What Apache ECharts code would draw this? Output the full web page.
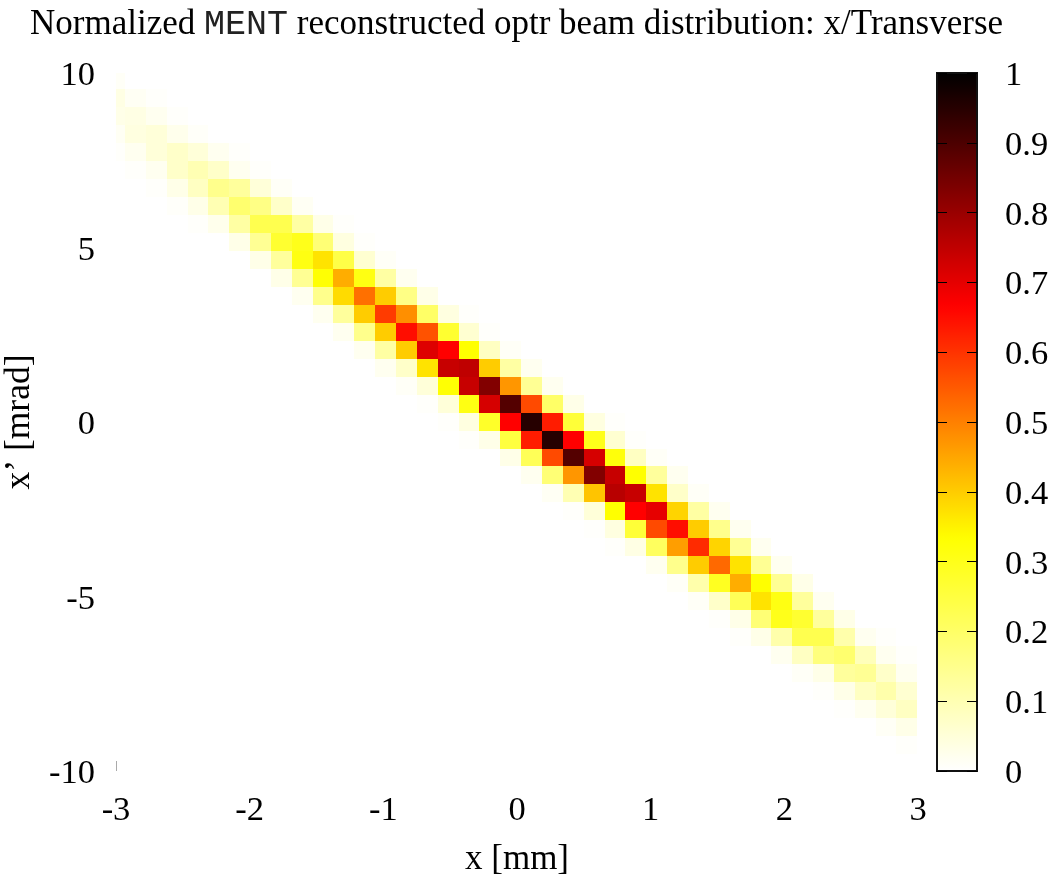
<!DOCTYPE html>
<html><head><meta charset="utf-8">
<style>html,body{margin:0;padding:0;background:#fff}#c{width:1054px;height:878px}</style>
<script src="https://cdn.jsdelivr.net/npm/echarts@6/dist/echarts.min.js"></script>
</head><body><div id="c"></div>
<script>
// Cell edges in data units (first column and first row are clipped by the axis range)
const xEdges=[-3,-2.933,-2.777,-2.621,-2.465,-2.309,-2.153,-1.997,-1.841,-1.685,-1.529,-1.373,-1.217,-1.061,-0.905,-0.749,-0.593,-0.437,-0.281,-0.125,0.031,0.187,0.343,0.499,0.655,0.811,0.967,1.123,1.279,1.435,1.591,1.747,1.903,2.059,2.215,2.371,2.527,2.683,2.839,2.992];
const yEdges=[10,9.54,9.025,8.51,7.995,7.48,6.965,6.45,5.935,5.42,4.905,4.39,3.875,3.36,2.845,2.33,1.815,1.3,0.785,0.27,-0.245,-0.76,-1.275,-1.79,-2.305,-2.82,-3.335,-3.85,-4.365,-4.88,-5.395,-5.91,-6.425,-6.94,-7.455,-7.97,-8.485,-9,-9.515];
const xTicks=[-3,-2,-1,0,1,2,3];
const yTicks=[-10,-5,0,5,10];
const paletteColors=['#ffffff','#ffff00','#ff0000','#000000'];
// First occupied column of each row, then the values read from that column on
const rowStart=[0,0,0,0,0,1,2,3,4,6,7,8,9,10,11,12,13,14,15,16,17,19,20,21,22,23,24,26,27,28,29,30,32,33,34,35,37,38];
const rowValues=[
[.01],
[.035,.015,.005],
[.03,.035,.02,.005],
[.015,.04,.05,.025,.008],
[.005,.02,.05,.07,.05,.02,.005],
[.005,.02,.07,.10,.07,.02,.005],
[.005,.03,.08,.15,.13,.05,.01],
[.007,.03,.1,.19,.16,.07,.015],
[.005,.025,.12,.23,.23,.12,.03,.005],
[.03,.14,.27,.30,.18,.04,.005],
[.03,.13,.31,.37,.24,.06,.01],
[.03,.14,.33,.44,.31,.12,.02],
[.02,.15,.38,.52,.40,.16,.03],
[.02,.13,.40,.59,.48,.2,.04,.005],
[.02,.15,.40,.65,.56,.27,.06,.005],
[.02,.12,.40,.71,.667,.333,.08,.01],
[.02,.07,.37,.74,.75,.40,.12,.02],
[.01,.05,.33,.74,.83,.47,.14,.02],
[.005,.05,.31,.72,.89,.57,.2,.03],
[.005,.04,.28,.667,.95,.63,.26,.04,.005],
[.005,.03,.25,.63,.95,.667,.30,.06,.005],
[.03,.22,.57,.89,.72,.32,.08,.01],
[.02,.18,.47,.83,.74,.333,.13,.02],
[.015,.1,.41,.76,.74,.37,.07,.01],
[.005,.05,.333,.667,.70,.39,.12,.02],
[.004,.04,.26,.57,.65,.40,.15,.02],
[.005,.035,.21,.46,.61,.39,.14,.02],
[.02,.15,.40,.53,.37,.14,.02],
[.01,.11,.29,.44,.333,.14,.03],
[.01,.07,.22,.37,.31,.13,.02],
[.005,.03,.18,.30,.27,.13,.03],
[.005,.03,.11,.23,.23,.11,.02,.005],
[.02,.08,.17,.19,.09,.02,.005],
[.01,.03,.13,.14,.07,.02],
[.005,.03,.08,.11,.06],
[.004,.02,.05,.08],
[.012,.03],
[.005]
];
const cells=[];
rowValues.forEach((vals,r)=>vals.forEach((v,i)=>{
  const k=rowStart[r]+i;
  cells.push([xEdges[k],xEdges[k+1],yEdges[r],yEdges[r+1],v]);
}));
const serif='"Liberation Serif","Times New Roman",serif';
const labelStyle={fontFamily:serif,fontSize:34.5,color:'#000',fontWeight:'normal'};
const chart=echarts.init(document.getElementById('c'),null,{renderer:'canvas'});
chart.setOption({
  animation:false,
  backgroundColor:'#fff',
  title:{
    left:30,top:7,padding:0,
    text:'{a|Normalized }{m|MENT}{a| reconstructed optr beam distribution: x/Transverse}',
    textStyle:{fontWeight:'normal',rich:{
      a:{fontFamily:serif,fontSize:35,color:'#000',fontWeight:'normal'},
      m:{fontFamily:'"Liberation Mono",monospace',fontSize:35,color:'#222',fontWeight:'normal'}
    }}
  },
  grid:[
    {left:116,top:73,width:802,height:698,outerBoundsMode:'none'},
    {left:937,top:73,width:40,height:698,outerBoundsMode:'none',show:true,backgroundColor:'transparent',borderColor:'#111',borderWidth:2,zlevel:1,z:10}
  ],
  xAxis:[
    {type:'value',gridIndex:0,position:'bottom',min:-3,max:3,interval:1,
     name:'x [mm]',nameLocation:'middle',nameGap:71,nameTextStyle:{...labelStyle,fontSize:35},
     axisLine:{show:false,onZero:false},splitLine:{show:false},
     axisTick:{show:true,inside:true,length:10,customValues:[-3],lineStyle:{color:'#aaa',width:1}},
     axisLabel:{...labelStyle,margin:22,customValues:xTicks,showMinLabel:true,showMaxLabel:true}},
    {type:'value',gridIndex:0,position:'top',min:-3,max:3,interval:1,
     axisLine:{show:false,onZero:false},splitLine:{show:false},axisLabel:{show:false},
     axisTick:{show:true,inside:true,length:10,customValues:[-3],lineStyle:{color:'#aaa',width:1}}},
    {type:'value',gridIndex:1,min:0,max:1,show:false,axisLine:{onZero:false}}
  ],
  yAxis:[
    {type:'value',gridIndex:0,min:-10,max:10,interval:5,
     name:'x’ [mrad]',nameLocation:'middle',nameGap:68,nameRotate:90,nameTextStyle:{...labelStyle,fontSize:35.5},
     axisLine:{show:false,onZero:false},splitLine:{show:false},axisTick:{show:false},
     axisLabel:{...labelStyle,margin:21,verticalAlign:'top',lineHeight:6,customValues:yTicks}},
    {type:'value',gridIndex:1,position:'right',min:0,max:1,interval:0.1,zlevel:1,z:10,
     axisLine:{show:false,onZero:false},splitLine:{show:false},
     axisTick:{show:true,inside:true,length:10,lineStyle:{color:'#000',width:1}},
     axisLabel:{...labelStyle,margin:28,verticalAlign:'top',lineHeight:6,formatter:v=>String(+v.toFixed(1))}},
    {type:'value',gridIndex:1,position:'left',min:0,max:1,interval:0.1,zlevel:1,z:10,
     axisLine:{show:false,onZero:false},splitLine:{show:false},axisLabel:{show:false},
     axisTick:{show:true,inside:true,length:10,lineStyle:{color:'#000',width:1}}}
  ],
  visualMap:{
    type:'continuous',min:0,max:1,dimension:4,seriesIndex:0,
    left:937,top:73,itemWidth:40,itemHeight:698,padding:0,
    calculable:false,realtime:false,hoverLink:false,text:null,showLabel:false,
    textStyle:{fontSize:0},
    inRange:{color:paletteColors},z:5
  },
  series:[{
    type:'custom',xAxisIndex:0,yAxisIndex:0,
    coordinateSystem:'cartesian2d',
    encode:{x:[0,1],y:[2,3]},
    data:cells,
    renderItem:(params,api)=>{
      const p0=api.coord([api.value(0),api.value(2)]);
      const p1=api.coord([api.value(1),api.value(3)]);
      const x=Math.round(p0[0]),y=Math.round(p0[1]);
      return {type:'rect',
        shape:{x,y,width:Math.round(p1[0])-x,height:Math.round(p1[1])-y},
        style:{fill:api.visual('color')}};
    }
  }]
});
</script></body></html>
